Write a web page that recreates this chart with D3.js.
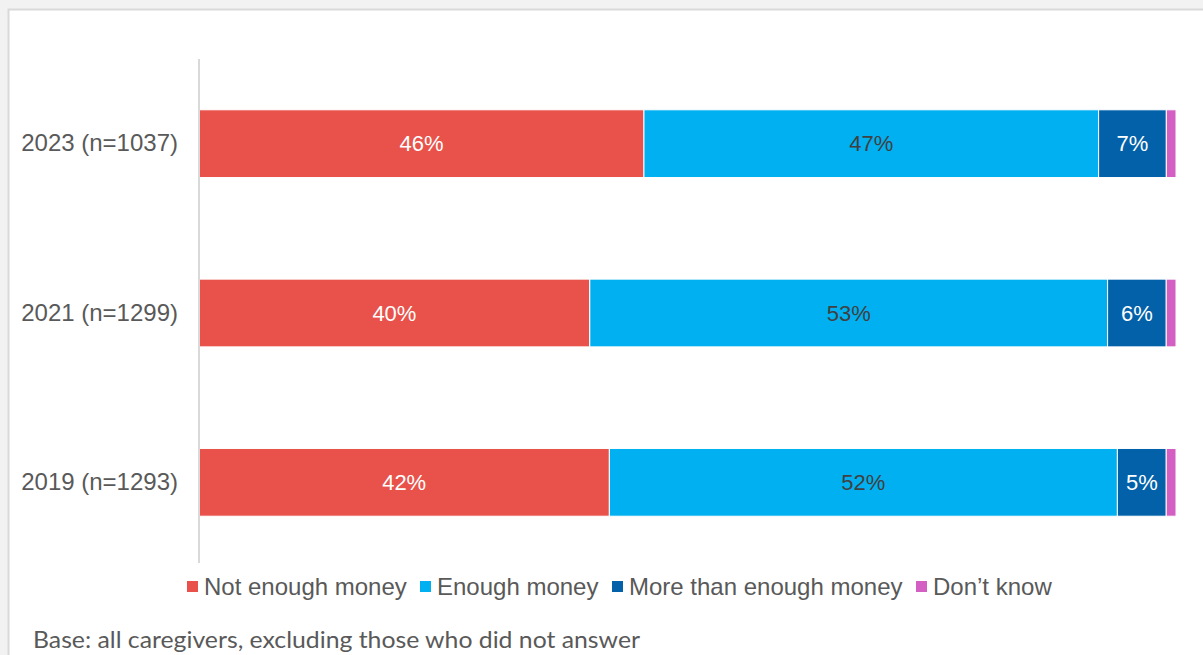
<!DOCTYPE html>
<html>
<head>
<meta charset="utf-8">
<script src="https://cdn.jsdelivr.net/npm/d3@7"></script>
<style>
  html, body { margin: 0; padding: 0; background: #f2f2f2; overflow: hidden; }
  svg { display: block; }
</style>
</head>
<body>
<svg id="chart" width="1203" height="655"></svg>
<script>
// Survey years (top to bottom) and answer shares in percent
const categories = ["2023 (n=1037)", "2021 (n=1299)", "2019 (n=1293)"];
const seriesNames = ["Not enough money", "Enough money", "More than enough money", "Don\u2019t know"];
const notEnough = [46, 40, 42];
const enough = [47, 53, 52];
const moreThanEnough = [7, 6, 5];
const dontKnow = [1, 1, 1];
const footnote = "Base: all caregivers, excluding those who did not answer";

const colors = ["#e8524a", "#00b0f0", "#0261a9", "#d35fc2"];
const labelColors = ["#ffffff", "#404040", "#ffffff", null];
const sans = "Liberation Sans, Arial, sans-serif";

const rows = categories.map((c, i) => ({
  cat: c,
  [seriesNames[0]]: notEnough[i],
  [seriesNames[1]]: enough[i],
  [seriesNames[2]]: moreThanEnough[i],
  [seriesNames[3]]: dontKnow[i]
}));

const svg = d3.select("#chart");

// card
svg.append("rect").attr("x", 8.5).attr("y", 9.5).attr("width", 1220).attr("height", 700)
  .attr("fill", "#ffffff").attr("stroke", "#d9d9d9").attr("stroke-width", 2);

const x = d3.scaleLinear().domain([0, 1]).range([199, 1176]);
const y = d3.scaleBand().domain(categories).range([59, 567]).paddingInner(0.6).paddingOuter(0.3);

const stack = d3.stack().keys(seriesNames).offset(d3.stackOffsetExpand);
const layers = stack(rows);

// bars
const g = svg.append("g");
layers.forEach((layer, k) => {
  g.selectAll(null).data(layer).join("rect")
    .attr("x", d => x(d[0]))
    .attr("y", d => y(d.data.cat))
    .attr("width", d => x(d[1]) - x(d[0]))
    .attr("height", y.bandwidth())
    .attr("fill", colors[k])
    .attr("stroke", "#ffffff")
    .attr("stroke-width", 1);
  if (labelColors[k]) {
    g.selectAll(null).data(layer).join("text")
      .attr("x", d => (x(d[0]) + x(d[1])) / 2)
      .attr("y", d => y(d.data.cat) + y.bandwidth() / 2)
      .attr("dy", "0.35em")
      .attr("text-anchor", "middle")
      .attr("font-family", sans)
      .attr("font-size", 22)
      .attr("fill", labelColors[k])
      .text(d => d.data[seriesNames[k]] + "%");
  }
});

// category axis
const yAxis = svg.append("g").attr("transform", "translate(199,0)")
  .call(d3.axisLeft(y).tickSize(0).tickPadding(21));
yAxis.select(".domain").attr("stroke", "#d9d9d9").attr("stroke-width", 2)
  .attr("d", "M0,59V563");
yAxis.selectAll("text")
  .attr("font-family", sans)
  .attr("font-size", 24)
  .attr("fill", "#595959");

// legend
const legendX = [187, 420, 612, 916];
const leg = svg.append("g");
seriesNames.forEach((s, k) => {
  leg.append("rect").attr("x", legendX[k]).attr("y", 581).attr("width", 11).attr("height", 11)
    .attr("fill", colors[k]);
  leg.append("text").attr("x", legendX[k] + 17).attr("y", 587).attr("dy", "0.35em")
    .attr("font-family", sans)
    .attr("font-size", 24).attr("fill", "#595959").text(s);
});

// footnote
svg.append("text").attr("x", 33).attr("y", 648)
  .attr("font-family", "Lato, Open Sans, sans-serif")
  .attr("font-size", 23).attr("fill", "#595959")
  .attr("textLength", 607).attr("lengthAdjust", "spacingAndGlyphs")
  .text(footnote);
</script>
</body>
</html>
